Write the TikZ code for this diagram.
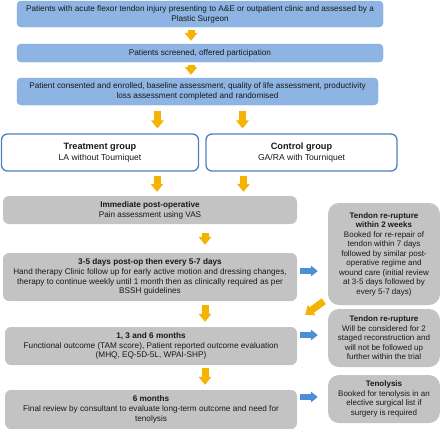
\documentclass[tikz,border=0pt]{standalone}
\usepackage{fontspec}
\setmainfont{Liberation Sans}
\usetikzlibrary{arrows.meta}
\definecolor{boxblue}{HTML}{8DB4E2}
\definecolor{boxblueline}{HTML}{7EA8DA}
\definecolor{groupline}{HTML}{4F81BD}
\definecolor{boxgrey}{HTML}{C3C3C3}
\definecolor{arrowgold}{HTML}{F4B300}
\definecolor{arrowblue}{HTML}{4C8FD7}

\begin{document}
\begin{tikzpicture}[x=1pt, y=-1pt,
    font=\fontsize{8.2}{9.8}\selectfont, text=black!90,
    bluebox/.style={fill=boxblue, draw=boxblueline, rounded corners=4pt, inner sep=0pt, align=center},
    groupbox/.style={fill=white, draw=groupline, line width=1.3pt, rounded corners=6pt, inner sep=0pt, align=center,
        font=\fontsize{8.6}{11}\selectfont},
    greybox/.style={fill=boxgrey, rounded corners=6pt, inner sep=0pt, align=center},
    sidebox/.style={fill=boxgrey, rounded corners=11pt, inner sep=0pt, align=center,
        font=\fontsize{8}{9.5}\selectfont},
    yarrow/.style={draw=arrowgold, line width=7pt, -{Triangle[width=12.5pt,length=8pt]}},
    barrow/.style={draw=arrowblue, line width=5.5pt, -{Triangle[width=10.5pt,length=7pt]}}]
    \useasboundingbox (0,0) rectangle (440,429);

    % screening and randomisation
    \node[bluebox, minimum width=366pt, minimum height=26pt] (injury) at (200,14)
        {Patients with acute flexor tendon injury presenting to A\&E or outpatient clinic and assessed by a\\Plastic Surgeon};
    \node[bluebox, minimum width=366pt, minimum height=18pt] (screen) at (200,53)
        {Patients screened, offered participation};
    \node[bluebox, minimum width=361pt, minimum height=27pt] (consent) at (197.5,91.5)
        {Patient consented and enrolled, baseline assessment, quality of life assessment, productivity\\loss assessment completed and randomised};

    % the two arms
    \node[groupbox, minimum width=197pt, minimum height=37pt] (treat) at (100,152.5)
        {{\fontsize{9.2}{11}\selectfont\bfseries Treatment group}\\LA without Tourniquet};
    \node[groupbox, minimum width=191pt, minimum height=37pt] (control) at (301.5,152.5)
        {{\fontsize{9.2}{11}\selectfont\bfseries Control group}\\GA/RA with Tourniquet};

    % follow up
    \node[greybox, minimum width=294pt, minimum height=28pt] (postop) at (150,210)
        {\textbf{Immediate post-operative}\\Pain assessment using VAS};
    \node[greybox, minimum width=294pt, minimum height=48pt] (therapy) at (150,277)
        {\textbf{3-5 days post-op then every 5-7 days}\\Hand therapy Clinic follow up for early active motion and dressing changes,\\therapy to continue weekly until 1 month then as clinically required as per\\BSSH guidelines};
    \node[greybox, minimum width=292pt, minimum height=38pt] (months) at (151,346)
        {\textbf{1, 3 and 6 months}\\Functional outcome (TAM score), Patient reported outcome evaluation\\(MHQ, EQ-5D-5L, WPAI-SHP)};
    \node[greybox, minimum width=292pt, minimum height=39pt] (final) at (151,409.5)
        {\textbf{6 months}\\Final review by consultant to evaluate long-term outcome and need for\\tenolysis};

    % complications
    \node[sidebox, minimum width=112pt, minimum height=102pt] (rupture) at (384,254)
        {\textbf{Tendon re-rupture}\\\textbf{within 2 weeks}\\Booked for re-repair of\\tendon within 7 days\\followed by similar post-\\operative regime and\\wound care (initial review\\at 3-5 days followed by\\every 5-7 days)};
    \node[sidebox, minimum width=112pt, minimum height=58pt] (rerupture) at (384,338)
        {\textbf{Tendon re-rupture}\\Will be considered for 2\\staged reconstruction and\\will not be followed up\\further within the trial};
    \node[sidebox, minimum width=112pt, minimum height=48pt] (tenolysis) at (384,399)
        {\textbf{Tenolysis}\\Booked for tenolysis in an\\elective surgical list if\\surgery is required};

    \draw[yarrow, shorten <=3pt, shorten >=3pt] ([xshift=-9pt]injury.south) -- ([xshift=-9pt]injury.south |- screen.north);
    \draw[yarrow, shorten <=3pt, shorten >=3pt] ([xshift=-9pt]screen.south) -- ([xshift=-9pt]screen.south |- consent.north);
    \draw[yarrow, shorten <=6pt, shorten >=5pt] ([xshift=-40pt]consent.south) -- ([xshift=-40pt]consent.south |- treat.north);
    \draw[yarrow, shorten <=6pt, shorten >=5pt] ([xshift=45pt]consent.south) -- ([xshift=45pt]consent.south |- control.north);
    \draw[yarrow, shorten <=4pt, shorten >=4pt] ([xshift=57pt]treat.south) -- ([xshift=57pt]treat.south |- postop.north);
    \draw[yarrow, shorten <=4pt, shorten >=4pt] ([xshift=-58pt]control.south) -- ([xshift=-58pt]control.south |- postop.north);
    \draw[yarrow, shorten <=9pt, shorten >=8pt] ([xshift=55pt]postop.south) -- ([xshift=55pt]therapy.north);
    \draw[yarrow, shorten <=4pt, shorten >=5pt] ([xshift=55pt]therapy.south) -- ([xshift=54pt]months.north);
    \draw[yarrow, shorten <=3pt, shorten >=5pt] ([xshift=54pt]months.south) -- ([xshift=54pt]final.north);
    \draw[yarrow] ([shift={(-4,-4)}]rupture.south west) -- ([shift={(8,-12)}]months.north east);

    \draw[barrow, shorten <=3pt, shorten >=10pt] ([yshift=6pt]therapy.east) -- ([yshift=6pt]therapy.east -| rupture.west);
    \draw[barrow, shorten <=3pt, shorten >=10pt] ([yshift=11pt]months.east) -- ([yshift=11pt]months.east -| rerupture.west);
    \draw[barrow, shorten <=3pt, shorten >=10pt] ([yshift=12.5pt]final.east) -- ([yshift=12.5pt]final.east -| tenolysis.west);
\end{tikzpicture}
\end{document}
